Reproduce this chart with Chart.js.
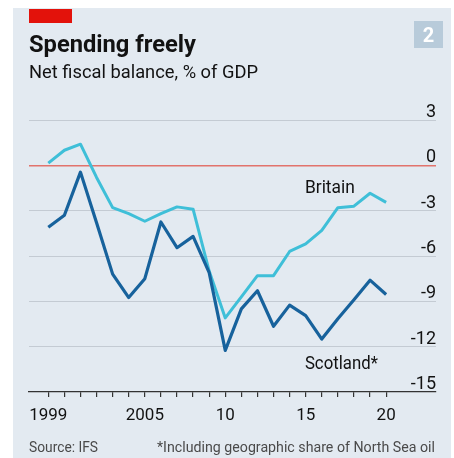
<!DOCTYPE html>
<html>
<head>
<meta charset="utf-8">
<script src="https://cdn.jsdelivr.net/npm/chart.js@4.4.1/dist/chart.umd.min.js"></script>
<style>
  html, body { margin: 0; padding: 0; background: #fff; }
</style>
</head>
<body>
<canvas id="fiscalChart" width="454" height="458"></canvas>
<script>
// values, % of GDP
const years = [1999, 2000, 2001, 2002, 2003, 2004, 2005, 2006, 2007, 2008, 2009,
               2010, 2011, 2012, 2013, 2014, 2015, 2016, 2017, 2018, 2019, 2020];
const britain = [0.15, 1.0, 1.4, -0.8, -2.8, -3.2, -3.7, -3.2, -2.75, -2.9, -7.0,
                 -10.1, -8.7, -7.3, -7.3, -5.7, -5.2, -4.3, -2.8, -2.7, -1.85, -2.45];
const scotland = [-4.1, -3.3, -0.45, -3.8, -7.2, -8.75, -7.5, -3.75, -5.45, -4.7, -7.1,
                  -12.25, -9.5, -8.3, -10.65, -9.25, -9.95, -11.5, -10.15, -8.9, -7.6, -8.55];
const yTicks = [3, 0, -3, -6, -9, -12, -15];
const xTickLabels = { 1999: "1999", 2005: "2005", 2010: "10", 2015: "15", 2020: "20" };

const FONT = "Roboto, 'Noto Sans', sans-serif";
const INK = "#121212";

// draw text squeezed/stretched to a given width (the original face is narrow)
function fitText(c, text, x, y, width, align) {
  const k = width / c.measureText(text).width;
  const left = align === "right" ? x - width : x;
  c.save();
  c.translate(left, y);
  c.scale(k, 1);
  c.textAlign = "left";
  c.fillText(text, 0, 0);
  c.restore();
}

const chrome = {
  id: "chrome",
  beforeDraw(chart) {
    const c = chart.ctx;
    c.save();
    c.fillStyle = "#fff";
    c.fillRect(0, 0, chart.width, chart.height);
    c.fillStyle = "#e3eaf1";
    c.fillRect(13, 8, 438, 450);
    // red tag
    c.fillStyle = "#e3120b";
    c.fillRect(29, 9, 43, 14);
    // chart number badge
    c.fillStyle = "#b8cbda";
    c.fillRect(414, 21, 29, 27);
    c.fillStyle = "#fff";
    c.font = "bold 20px " + FONT;
    c.textAlign = "center";
    c.textBaseline = "alphabetic";
    c.fillText("2", 428.5, 42);

    c.fillStyle = INK;
    c.font = "bold 24px " + FONT;
    fitText(c, "Spending freely", 29, 52, 167);
    c.font = "18px " + FONT;
    fitText(c, "Net fiscal balance, % of GDP", 29, 77.5, 229);

    c.fillStyle = "#4a4a4a";
    c.font = "15px " + FONT;
    fitText(c, "Source: IFS", 29, 452, 69);
    fitText(c, "*Including geographic share of North Sea oil", 435, 452, 278, "right");
    c.restore();
  },
  beforeDatasetsDraw(chart) {
    const c = chart.ctx;
    const y = chart.scales.y;
    c.save();
    c.fillStyle = INK;
    c.font = "18px " + FONT;
    c.textAlign = "right";
    c.textBaseline = "alphabetic";
    yTicks.forEach(v => {
      c.fillText(String(v), 436, y.getPixelForValue(v) - 3);
    });
    c.restore();
  },
  afterDatasetsDraw(chart) {
    const c = chart.ctx;
    const x = chart.scales.x, y = chart.scales.y;
    c.save();
    c.fillStyle = INK;
    c.font = "18px " + FONT;
    fitText(c, "Britain", x.getPixelForValue(2014.95), y.getPixelForValue(-1.85), 50);
    fitText(c, "Scotland*", x.getPixelForValue(2014.95), y.getPixelForValue(-13.45), 73);
    c.restore();
  }
};

const ctx = document.getElementById("fiscalChart").getContext("2d");

new Chart(ctx, {
  type: "line",
  data: {
    datasets: [
      {
        label: "Scotland*",
        data: years.map((yr, i) => ({ x: yr, y: scotland[i] })),
        borderColor: "#17629c",
        borderWidth: 3.2,
        pointRadius: 0,
        tension: 0,
        order: 0
      },
      {
        label: "Britain",
        data: years.map((yr, i) => ({ x: yr, y: britain[i] })),
        borderColor: "#3fbfd8",
        borderWidth: 3,
        pointRadius: 0,
        tension: 0,
        order: 1
      }
    ]
  },
  options: {
    responsive: false,
    animation: false,
    layout: {
      padding: { left: 29, right: 18, top: 120, bottom: 6 }
    },
    plugins: {
      legend: { display: false },
      tooltip: { enabled: false }
    },
    elements: {
      line: { borderJoinStyle: "round", borderCapStyle: "butt" }
    },
    scales: {
      x: {
        type: "linear",
        min: 1997.8,
        max: 2023.1,
        afterFit: s => { s.height = 60; },
        afterBuildTicks: s => { s.ticks = years.map(v => ({ value: v })); },
        grid: {
          drawOnChartArea: false,
          drawTicks: true,
          tickLength: 5,
          color: "#333",
          lineWidth: 1.2
        },
        border: { display: true, color: "#333", width: 1.3 },
        ticks: {
          autoSkip: false,
          maxRotation: 0,
          padding: 9,
          color: INK,
          font: { family: FONT, size: 17 },
          callback: v => xTickLabels[v] ?? ""
        }
      },
      y: {
        min: -15,
        max: 3,
        afterFit: s => { s.width = 0; },
        afterBuildTicks: s => { s.ticks = yTicks.map(v => ({ value: v })); },
        grid: {
          drawTicks: false,
          color: c => c.tick && c.tick.value === 0 ? "#e2736c" : "#c4cbd3",
          lineWidth: c => c.tick && c.tick.value === 0 ? 1.6 : (c.tick && c.tick.value === -15 ? 0 : 1)
        },
        border: { display: false },
        ticks: { display: false }
      }
    }
  },
  plugins: [chrome]
});
</script>
</body>
</html>
